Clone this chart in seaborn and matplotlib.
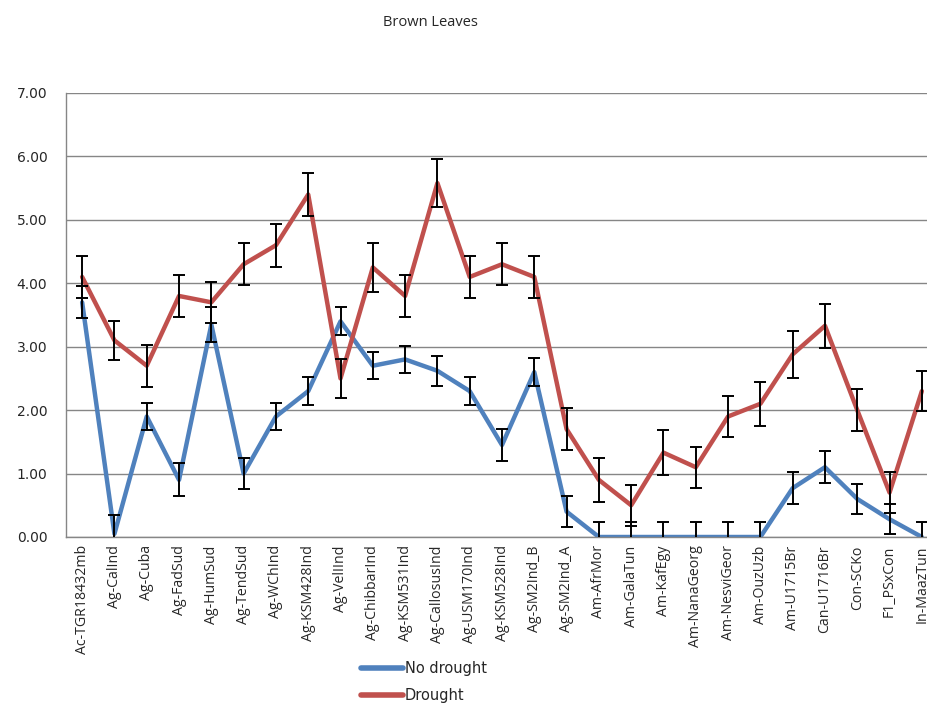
import numpy as np
import pandas as pd
import matplotlib
matplotlib.use("Agg")
import matplotlib.pyplot as plt
import seaborn as sns

# Accession names on the x axis
accessions = [
    "Ac-TGR18432mb", "Ag-CalInd", "Ag-Cuba", "Ag-FadSud", "Ag-HumSud",
    "Ag-TendSud", "Ag-WChInd", "Ag-KSM428Ind", "Ag-VelIInd", "Ag-ChibbarInd",
    "Ag-KSM531Ind", "Ag-CallosusInd", "Ag-USM170Ind", "Ag-KSM528Ind",
    "Ag-SM2Ind_B", "Ag-SM2Ind_A", "Am-AfrMor", "Am-GalaTun", "Am-KafEgy",
    "Am-NanaGeorg", "Am-NesviGeor", "Am-OuzUzb", "Am-U1715Br", "Can-U1716Br",
    "Con-SCKo", "F1_PSxCon", "In-MaazTun",
]

# Brown leaves score, no drought
no_drought = [3.70, 0.05, 1.90, 0.90, 3.35, 1.00, 1.90, 2.30, 3.40, 2.70,
              2.80, 2.62, 2.30, 1.45, 2.60, 0.40, 0.00, 0.00, 0.00, 0.00,
              0.00, 0.00, 0.77, 1.10, 0.60, 0.28, 0.00]
no_drought_err = [0.25, 0.30, 0.21, 0.26, 0.27, 0.25, 0.21, 0.22, 0.22, 0.21,
                  0.21, 0.24, 0.22, 0.25, 0.22, 0.24, 0.24, 0.24, 0.24, 0.24,
                  0.24, 0.24, 0.25, 0.25, 0.24, 0.24, 0.24]

# Brown leaves score, drought
drought = [4.10, 3.10, 2.70, 3.80, 3.70, 4.30, 4.60, 5.40, 2.50, 4.25,
           3.80, 5.58, 4.10, 4.30, 4.10, 1.70, 0.90, 0.50, 1.33, 1.10,
           1.90, 2.10, 2.88, 3.33, 2.00, 0.70, 2.30]
drought_err = [0.33, 0.31, 0.33, 0.33, 0.32, 0.33, 0.34, 0.34, 0.31, 0.38,
               0.33, 0.38, 0.33, 0.33, 0.33, 0.33, 0.35, 0.32, 0.35, 0.32,
               0.32, 0.35, 0.37, 0.35, 0.33, 0.32, 0.32]

y_ticks = [0, 1, 2, 3, 4, 5, 6, 7]

blue = "#4F81BD"
red = "#C0504D"
grey = "#868686"

pos = np.arange(len(accessions))
df = pd.DataFrame({
    "pos": np.concatenate([pos, pos]),
    "value": no_drought + drought,
    "err": no_drought_err + drought_err,
    "series": ["No drought"] * len(pos) + ["Drought"] * len(pos),
})

sns.set_style("white")
plt.rcParams["font.family"] = ["Open Sans", "DejaVu Sans"]

fig = plt.figure(figsize=(9.27, 7.06), dpi=100)
# plot area runs past the right edge, as in the cropped original
ax = fig.add_axes([66 / 927, (706 - 537) / 706, (938 - 66) / 927, (537 - 93) / 706])

sns.lineplot(data=df, x="pos", y="value", hue="series",
             palette={"No drought": blue, "Drought": red},
             hue_order=["No drought", "Drought"],
             sort=False, linewidth=3.2, ax=ax, legend=False)

# error bars
for name in ["No drought", "Drought"]:
    sub = df[df["series"] == name]
    ax.errorbar(sub["pos"], sub["value"], yerr=sub["err"], fmt="none",
                ecolor="black", elinewidth=1.4, capsize=4, capthick=1.4,
                zorder=5)

ax.set_xlim(-0.5, len(accessions) - 0.5)
ax.set_ylim(0, 7)
ax.set_yticks(y_ticks)
ax.set_yticklabels([f"{v:.2f}" for v in y_ticks], fontsize=10,
                   family=["DejaVu Sans"])
ax.set_xticks(pos)
ax.set_xticklabels(accessions, rotation=90, fontsize=10.2)
ax.set_xticks(np.arange(-0.5, len(accessions), 1), minor=True)
ax.tick_params(axis="x", which="major", length=0, pad=6)
ax.tick_params(axis="x", which="minor", length=5, color=grey, width=1)
ax.tick_params(axis="y", length=5, color=grey, width=1, pad=8.5)
ax.set_xlabel("")
ax.set_ylabel("")

ax.grid(axis="y", color=grey, linewidth=1)
ax.set_axisbelow(True)
for side in ["top", "right"]:
    ax.spines[side].set_visible(False)
for side in ["left", "bottom"]:
    ax.spines[side].set_color(grey)
    ax.spines[side].set_linewidth(1)

fig.text(430 / 927, 1 - 22 / 706, "Brown Leaves", ha="center", va="center",
         fontsize=10.5)

# legend below the plot
handles = [plt.Line2D([], [], color=blue, linewidth=4),
           plt.Line2D([], [], color=red, linewidth=4)]
fig.legend(handles, ["No drought", "Drought"], loc="center left",
           bbox_to_anchor=(348 / 927, 1 - 682 / 706), frameon=False,
           prop={"family": "DejaVu Sans", "size": 10.5},
           handlelength=2.9, handletextpad=0.1, labelspacing=0.85)

fig.savefig("out.png", dpi=100)
